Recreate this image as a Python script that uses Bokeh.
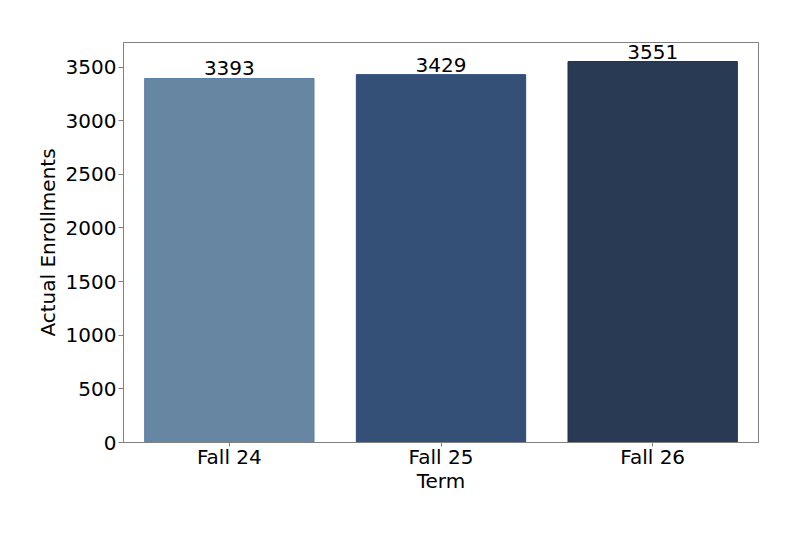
from bokeh.plotting import figure
from bokeh.models import ColumnDataSource, Range1d, FixedTicker
from bokeh.embed import file_html
from bokeh.resources import INLINE
from bokeh.core.properties import value

terms = ["Fall 24", "Fall 25", "Fall 26"]
enrollments = [3393, 3429, 3551]
fill_colors = ["#6786a2", "#345076", "#283a54"]
edge_colors = ["#5b80a8", "#2b4a7e", "#1f3150"]
y_ticks = [0, 500, 1000, 1500, 2000, 2500, 3000, 3500]

src = ColumnDataSource(dict(term=terms, val=enrollments, fill=fill_colors, edge=edge_colors,
                            lab=[str(v) for v in enrollments]))

p = figure(x_range=terms, width=784, height=517, output_backend="svg", toolbar_location=None,
           min_border_left=123, min_border_right=26, min_border_top=42, min_border_bottom=75)
p.y_range = Range1d(0, max(enrollments) * 1.05)
p.x_range.range_padding = 0.0
p.x_range.factor_padding = 0.0

p.vbar(x="term", top="val", width=0.8, source=src, fill_color="fill", line_color="edge", line_width=1)
p.text(x="term", y="val", text="lab", source=src, text_align="center", text_baseline="bottom",
       text_font=value("DejaVu Sans"), text_font_size="20px", text_color="black", y_offset=-3)

p.grid.visible = False
p.outline_line_color = "#808080"
p.outline_line_width = 1
p.background_fill_color = "white"
p.border_fill_color = "white"

for ax in (p.xaxis[0], p.yaxis[0]):
    ax.axis_line_color = "#808080"
    ax.major_tick_line_color = "#808080"
    ax.major_tick_out = 5
    ax.major_tick_in = 0
    ax.minor_tick_line_color = None
    ax.major_label_text_font = "DejaVu Sans"
    ax.major_label_text_font_size = "20px"
    ax.major_label_text_color = "black"
    ax.axis_label_text_font = "DejaVu Sans"
    ax.axis_label_text_font_size = "20px"
    ax.axis_label_text_font_style = "normal"
    ax.axis_label_text_color = "black"

p.yaxis.ticker = FixedTicker(ticks=y_ticks)
p.xaxis.axis_label = "Term"
p.yaxis.axis_label = "Actual Enrollments"
p.xaxis.major_tick_out = 4
p.xaxis.major_label_standoff = -2
p.xaxis.axis_label_standoff = -3
p.yaxis.major_label_standoff = 2
p.yaxis.axis_label_standoff = 3

open("out.html", "w").write(file_html(p, INLINE))
